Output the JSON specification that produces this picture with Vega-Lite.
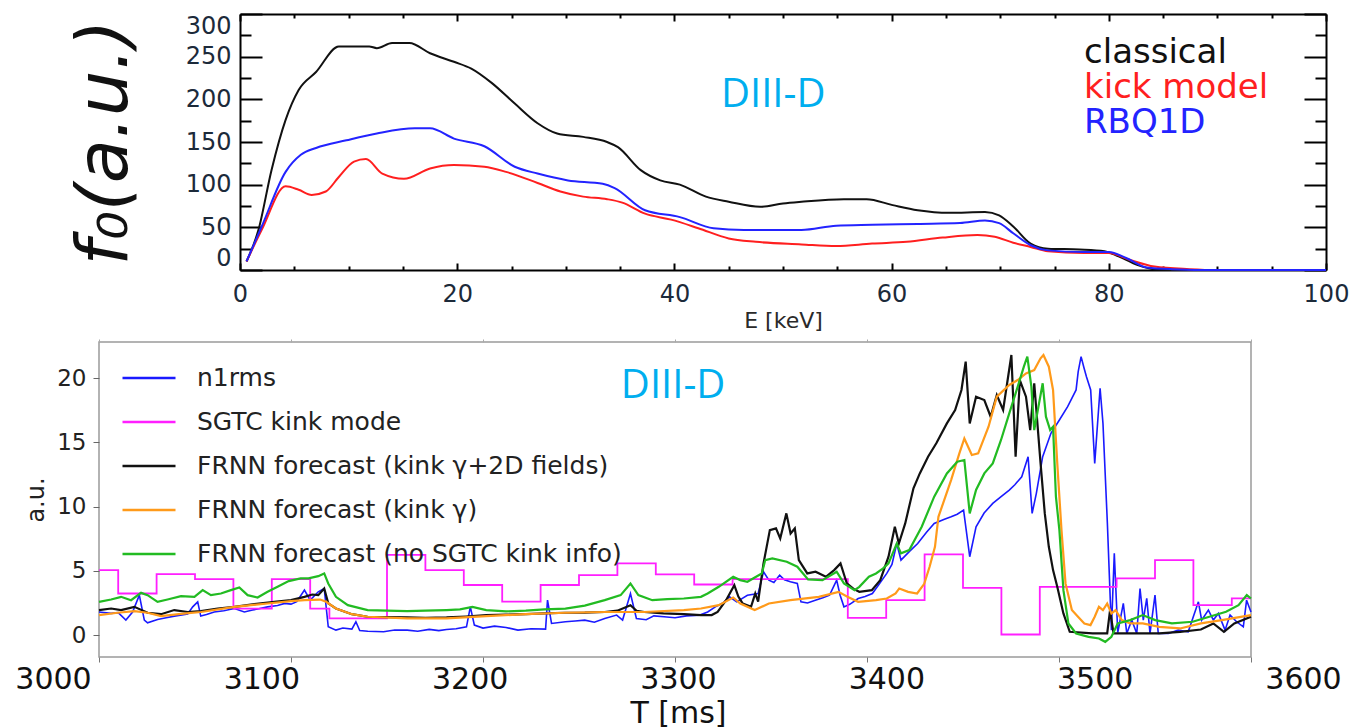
{
  "$schema": "https://vega.github.io/schema/vega-lite/v6.json",
  "background": "white",
  "padding": {"left": 14, "top": 13, "right": 0, "bottom": 0},
  "bounds": "flush",
  "spacing": 72,
  "resolve": {"scale": {"color": "independent"}, "legend": {"color": "independent"}},
  "config": {
    "view": {"stroke": null},
    "axis": {"grid": false, "titleFontWeight": "normal"},
    "font": "DejaVu Sans"
  },
  "datasets": {
    "energy": [
      {"E": 0.6, "f": 10, "curve": "classical"}, {"E": 1.7, "f": 47, "curve": "classical"}, {"E": 2.9, "f": 117, "curve": "classical"},
      {"E": 4.2, "f": 176, "curve": "classical"}, {"E": 5.4, "f": 211, "curve": "classical"}, {"E": 7.0, "f": 232, "curve": "classical"},
      {"E": 9.1, "f": 262, "curve": "classical"}, {"E": 11.9, "f": 262, "curve": "classical"}, {"E": 12.6, "f": 260, "curve": "classical"},
      {"E": 14.0, "f": 266, "curve": "classical"}, {"E": 15.6, "f": 266, "curve": "classical"}, {"E": 17.5, "f": 254, "curve": "classical"},
      {"E": 19.7, "f": 244, "curve": "classical"}, {"E": 21.3, "f": 236, "curve": "classical"}, {"E": 23.2, "f": 219, "curve": "classical"},
      {"E": 25.3, "f": 195, "curve": "classical"}, {"E": 27.4, "f": 172, "curve": "classical"}, {"E": 29.2, "f": 160, "curve": "classical"},
      {"E": 31.6, "f": 156, "curve": "classical"}, {"E": 33.8, "f": 150, "curve": "classical"}, {"E": 34.8, "f": 144, "curve": "classical"},
      {"E": 36.9, "f": 117, "curve": "classical"}, {"E": 38.7, "f": 105, "curve": "classical"}, {"E": 40.5, "f": 100, "curve": "classical"},
      {"E": 42.9, "f": 86, "curve": "classical"}, {"E": 45.0, "f": 80, "curve": "classical"}, {"E": 47.9, "f": 74, "curve": "classical"},
      {"E": 50.0, "f": 78, "curve": "classical"}, {"E": 51.7, "f": 80, "curve": "classical"}, {"E": 55.6, "f": 83, "curve": "classical"},
      {"E": 57.7, "f": 83, "curve": "classical"}, {"E": 60.1, "f": 76, "curve": "classical"}, {"E": 62.4, "f": 70, "curve": "classical"},
      {"E": 65.3, "f": 67, "curve": "classical"}, {"E": 68.6, "f": 68, "curve": "classical"}, {"E": 69.9, "f": 64, "curve": "classical"},
      {"E": 71.2, "f": 51, "curve": "classical"}, {"E": 72.8, "f": 31, "curve": "classical"}, {"E": 74.4, "f": 25, "curve": "classical"},
      {"E": 77.3, "f": 24, "curve": "classical"}, {"E": 79.6, "f": 22, "curve": "classical"}, {"E": 80.9, "f": 16, "curve": "classical"},
      {"E": 82.6, "f": 6, "curve": "classical"}, {"E": 84.2, "f": 1, "curve": "classical"}, {"E": 87, "f": 0, "curve": "classical"},
      {"E": 100, "f": 0, "curve": "classical"},

      {"E": 0.6, "f": 10, "curve": "kick model"}, {"E": 2.0, "f": 47, "curve": "kick model"}, {"E": 4.2, "f": 98, "curve": "kick model"},
      {"E": 5.4, "f": 94, "curve": "kick model"}, {"E": 6.6, "f": 88, "curve": "kick model"}, {"E": 7.9, "f": 92, "curve": "kick model"},
      {"E": 9.1, "f": 109, "curve": "kick model"}, {"E": 10.5, "f": 127, "curve": "kick model"}, {"E": 11.6, "f": 130, "curve": "kick model"},
      {"E": 13.1, "f": 113, "curve": "kick model"}, {"E": 15.1, "f": 107, "curve": "kick model"}, {"E": 17.5, "f": 119, "curve": "kick model"},
      {"E": 19.7, "f": 123, "curve": "kick model"}, {"E": 22.5, "f": 121, "curve": "kick model"}, {"E": 24.5, "f": 115, "curve": "kick model"},
      {"E": 27.4, "f": 102, "curve": "kick model"}, {"E": 29.5, "f": 92, "curve": "kick model"}, {"E": 31.6, "f": 86, "curve": "kick model"},
      {"E": 33.8, "f": 83, "curve": "kick model"}, {"E": 35.2, "f": 79, "curve": "kick model"}, {"E": 37.3, "f": 66, "curve": "kick model"},
      {"E": 39.7, "f": 59, "curve": "kick model"}, {"E": 42.2, "f": 49, "curve": "kick model"}, {"E": 45.0, "f": 37, "curve": "kick model"},
      {"E": 47.5, "f": 33, "curve": "kick model"}, {"E": 51.7, "f": 30, "curve": "kick model"}, {"E": 54.9, "f": 28, "curve": "kick model"},
      {"E": 58.2, "f": 31, "curve": "kick model"}, {"E": 61.4, "f": 33, "curve": "kick model"}, {"E": 64.7, "f": 38, "curve": "kick model"},
      {"E": 67.9, "f": 41, "curve": "kick model"}, {"E": 69.5, "f": 39, "curve": "kick model"}, {"E": 71.2, "f": 32, "curve": "kick model"},
      {"E": 72.8, "f": 27, "curve": "kick model"}, {"E": 74.4, "f": 22, "curve": "kick model"}, {"E": 77.7, "f": 20, "curve": "kick model"},
      {"E": 80.0, "f": 20, "curve": "kick model"}, {"E": 81.9, "f": 12, "curve": "kick model"}, {"E": 84.2, "f": 4, "curve": "kick model"},
      {"E": 87.4, "f": 1, "curve": "kick model"}, {"E": 90, "f": 0, "curve": "kick model"}, {"E": 100, "f": 0, "curve": "kick model"},

      {"E": 0.6, "f": 10, "curve": "RBQ1D"}, {"E": 2.0, "f": 51, "curve": "RBQ1D"}, {"E": 4.2, "f": 115, "curve": "RBQ1D"},
      {"E": 5.6, "f": 135, "curve": "RBQ1D"}, {"E": 7.0, "f": 143, "curve": "RBQ1D"}, {"E": 9.8, "f": 152, "curve": "RBQ1D"},
      {"E": 12.6, "f": 160, "curve": "RBQ1D"}, {"E": 16.1, "f": 166, "curve": "RBQ1D"}, {"E": 17.5, "f": 166, "curve": "RBQ1D"},
      {"E": 19.7, "f": 154, "curve": "RBQ1D"}, {"E": 22.5, "f": 145, "curve": "RBQ1D"}, {"E": 25.3, "f": 121, "curve": "RBQ1D"},
      {"E": 27.4, "f": 113, "curve": "RBQ1D"}, {"E": 30.2, "f": 105, "curve": "RBQ1D"}, {"E": 33.4, "f": 101, "curve": "RBQ1D"},
      {"E": 34.5, "f": 96, "curve": "RBQ1D"}, {"E": 37.3, "f": 70, "curve": "RBQ1D"}, {"E": 40.5, "f": 62, "curve": "RBQ1D"},
      {"E": 43.6, "f": 49, "curve": "RBQ1D"}, {"E": 46.4, "f": 47, "curve": "RBQ1D"}, {"E": 51.7, "f": 47, "curve": "RBQ1D"},
      {"E": 54.9, "f": 52, "curve": "RBQ1D"}, {"E": 58.2, "f": 53, "curve": "RBQ1D"}, {"E": 62.4, "f": 54, "curve": "RBQ1D"},
      {"E": 66.3, "f": 55, "curve": "RBQ1D"}, {"E": 68.6, "f": 58, "curve": "RBQ1D"}, {"E": 69.9, "f": 55, "curve": "RBQ1D"},
      {"E": 71.2, "f": 43, "curve": "RBQ1D"}, {"E": 72.8, "f": 29, "curve": "RBQ1D"}, {"E": 74.4, "f": 23, "curve": "RBQ1D"},
      {"E": 77.7, "f": 21, "curve": "RBQ1D"}, {"E": 80.0, "f": 21, "curve": "RBQ1D"}, {"E": 81.6, "f": 14, "curve": "RBQ1D"},
      {"E": 83.5, "f": 3, "curve": "RBQ1D"}, {"E": 85.8, "f": 1, "curve": "RBQ1D"}, {"E": 90, "f": 0, "curve": "RBQ1D"},
      {"E": 100, "f": 0, "curve": "RBQ1D"}
    ],
    "sgtc": [
      {"T": 3000, "v": 5.06, "s": "SGTC kink mode"}, {"T": 3010, "v": 3.24, "s": "SGTC kink mode"}, {"T": 3030, "v": 4.75, "s": "SGTC kink mode"},
      {"T": 3050, "v": 4.36, "s": "SGTC kink mode"}, {"T": 3070, "v": 2.07, "s": "SGTC kink mode"}, {"T": 3090, "v": 4.36, "s": "SGTC kink mode"},
      {"T": 3110, "v": 2.07, "s": "SGTC kink mode"}, {"T": 3120, "v": 1.3, "s": "SGTC kink mode"}, {"T": 3150, "v": 6.25, "s": "SGTC kink mode"},
      {"T": 3170, "v": 5.06, "s": "SGTC kink mode"}, {"T": 3190, "v": 3.9, "s": "SGTC kink mode"}, {"T": 3210, "v": 2.6, "s": "SGTC kink mode"},
      {"T": 3230, "v": 3.9, "s": "SGTC kink mode"}, {"T": 3250, "v": 4.67, "s": "SGTC kink mode"}, {"T": 3270, "v": 5.58, "s": "SGTC kink mode"},
      {"T": 3290, "v": 4.72, "s": "SGTC kink mode"}, {"T": 3310, "v": 3.94, "s": "SGTC kink mode"}, {"T": 3330, "v": 4.36, "s": "SGTC kink mode"},
      {"T": 3390, "v": 1.35, "s": "SGTC kink mode"}, {"T": 3410, "v": 2.72, "s": "SGTC kink mode"}, {"T": 3430, "v": 6.28, "s": "SGTC kink mode"},
      {"T": 3450, "v": 3.68, "s": "SGTC kink mode"}, {"T": 3470, "v": 0.05, "s": "SGTC kink mode"}, {"T": 3490, "v": 3.76, "s": "SGTC kink mode"},
      {"T": 3530, "v": 4.41, "s": "SGTC kink mode"}, {"T": 3550, "v": 5.84, "s": "SGTC kink mode"}, {"T": 3570, "v": 2.33, "s": "SGTC kink mode"},
      {"T": 3590, "v": 2.86, "s": "SGTC kink mode"}, {"T": 3600, "v": 2.86, "s": "SGTC kink mode"}
    ],
    "n1rms": [
      {"T": 3000, "v": 1.8}, {"T": 3006.3, "v": 1.69}, {"T": 3010, "v": 1.75}, {"T": 3014, "v": 1.17}, {"T": 3017.5, "v": 1.8},
      {"T": 3021, "v": 3.11}, {"T": 3023.6, "v": 1.17}, {"T": 3025.3, "v": 0.96}, {"T": 3030.5, "v": 1.22}, {"T": 3035, "v": 1.35},
      {"T": 3039.2, "v": 1.48}, {"T": 3046.2, "v": 1.65}, {"T": 3048.8, "v": 2.2}, {"T": 3051.4, "v": 2.59}, {"T": 3053, "v": 1.48},
      {"T": 3056, "v": 1.6}, {"T": 3060, "v": 1.8}, {"T": 3065, "v": 1.9}, {"T": 3070.5, "v": 2.07}, {"T": 3075.7, "v": 1.8},
      {"T": 3080, "v": 1.95}, {"T": 3087.8, "v": 2.2}, {"T": 3093, "v": 2.3}, {"T": 3096.7, "v": 2.47}, {"T": 3100, "v": 2.41},
      {"T": 3103, "v": 2.6}, {"T": 3107, "v": 3.5}, {"T": 3110, "v": 2.72}, {"T": 3114.2, "v": 3.37}, {"T": 3117.3, "v": 3.63},
      {"T": 3119.4, "v": 0.65}, {"T": 3123.4, "v": 0.39}, {"T": 3127, "v": 0.55}, {"T": 3131.7, "v": 0.47}, {"T": 3133.8, "v": 1.04},
      {"T": 3135.8, "v": 0.36}, {"T": 3140, "v": 0.3}, {"T": 3148.2, "v": 0.26}, {"T": 3154, "v": 0.4}, {"T": 3160.5, "v": 0.39},
      {"T": 3166, "v": 0.3}, {"T": 3172, "v": 0.45}, {"T": 3177, "v": 0.35}, {"T": 3181, "v": 0.44}, {"T": 3186, "v": 0.5},
      {"T": 3191.4, "v": 0.65}, {"T": 3193.4, "v": 2.2}, {"T": 3195.5, "v": 0.78}, {"T": 3200, "v": 0.55}, {"T": 3206, "v": 0.7},
      {"T": 3212, "v": 0.6}, {"T": 3218.2, "v": 0.39}, {"T": 3225, "v": 0.5}, {"T": 3232.6, "v": 0.47}, {"T": 3233.6, "v": 2.72},
      {"T": 3235.7, "v": 0.91}, {"T": 3242.9, "v": 1.04}, {"T": 3248, "v": 1.1}, {"T": 3253, "v": 1.17}, {"T": 3258, "v": 1.0},
      {"T": 3263.4, "v": 1.3}, {"T": 3269.6, "v": 1.56}, {"T": 3272.7, "v": 1.17}, {"T": 3276.8, "v": 3.24}, {"T": 3279.9, "v": 1.3},
      {"T": 3285, "v": 1.2}, {"T": 3289, "v": 1.5}, {"T": 3294.3, "v": 1.43}, {"T": 3300, "v": 1.35}, {"T": 3306, "v": 1.5},
      {"T": 3312.9, "v": 1.56}, {"T": 3317, "v": 1.8}, {"T": 3321, "v": 2.2}, {"T": 3325, "v": 2.5}, {"T": 3328.4, "v": 2.98},
      {"T": 3332.1, "v": 2.59}, {"T": 3337.7, "v": 3.1}, {"T": 3343.3, "v": 3.24}, {"T": 3346.1, "v": 4.93}, {"T": 3348.9, "v": 4.28},
      {"T": 3351.5, "v": 4.1}, {"T": 3354.5, "v": 4.67}, {"T": 3357, "v": 4.3}, {"T": 3360.1, "v": 4.15}, {"T": 3363.7, "v": 4.02},
      {"T": 3365.6, "v": 2.59}, {"T": 3369, "v": 2.5}, {"T": 3373.1, "v": 2.72}, {"T": 3377, "v": 2.9}, {"T": 3380.5, "v": 3.11},
      {"T": 3384.2, "v": 4.28}, {"T": 3386, "v": 3.1}, {"T": 3388, "v": 2.2}, {"T": 3391, "v": 2.4}, {"T": 3395.4, "v": 2.85},
      {"T": 3399, "v": 3.0}, {"T": 3402.8, "v": 3.24}, {"T": 3406, "v": 3.9}, {"T": 3410.3, "v": 4.8}, {"T": 3413, "v": 5.5},
      {"T": 3415.5, "v": 7.13}, {"T": 3417.7, "v": 5.84}, {"T": 3422, "v": 6.5}, {"T": 3426.4, "v": 7.13}, {"T": 3431, "v": 8.0},
      {"T": 3435, "v": 8.69}, {"T": 3440, "v": 9.0}, {"T": 3443.8, "v": 9.2}, {"T": 3447, "v": 9.4}, {"T": 3450.3, "v": 9.73},
      {"T": 3453.5, "v": 6.1}, {"T": 3456.8, "v": 8.43}, {"T": 3461, "v": 9.5}, {"T": 3465.5, "v": 10.25}, {"T": 3470, "v": 10.8},
      {"T": 3474.1, "v": 11.28}, {"T": 3477, "v": 11.7}, {"T": 3480.6, "v": 12.32}, {"T": 3483.9, "v": 13.88}, {"T": 3486, "v": 9.47},
      {"T": 3488.2, "v": 11.03}, {"T": 3491.5, "v": 13.88}, {"T": 3495.8, "v": 15.7}, {"T": 3500.2, "v": 16.73}, {"T": 3504.5, "v": 17.77},
      {"T": 3508.9, "v": 19.07}, {"T": 3510, "v": 20.5}, {"T": 3511.5, "v": 21.66}, {"T": 3513, "v": 20.8}, {"T": 3514.3, "v": 20.1},
      {"T": 3516.5, "v": 19.07}, {"T": 3518.6, "v": 13.36}, {"T": 3521.4, "v": 19.2}, {"T": 3522.9, "v": 16.47}, {"T": 3525.2, "v": 8.69},
      {"T": 3527.3, "v": 0.39}, {"T": 3528.8, "v": 6.36}, {"T": 3530.6, "v": 0.2}, {"T": 3533.5, "v": 2.47}, {"T": 3535.3, "v": 0.13},
      {"T": 3537.9, "v": 1.17}, {"T": 3540.5, "v": 0.13}, {"T": 3542.2, "v": 3.63}, {"T": 3543.9, "v": 1.17}, {"T": 3545.7, "v": 2.86},
      {"T": 3547.4, "v": 0.13}, {"T": 3550, "v": 3.11}, {"T": 3551.7, "v": 0.13}, {"T": 3556.9, "v": 0.13}, {"T": 3562.1, "v": 0.39},
      {"T": 3567.3, "v": 0.26}, {"T": 3572.6, "v": 2.59}, {"T": 3574.3, "v": 1.17}, {"T": 3577.8, "v": 1.95}, {"T": 3580.4, "v": 1.17},
      {"T": 3583, "v": 1.69}, {"T": 3586.5, "v": 0.39}, {"T": 3589.1, "v": 1.56}, {"T": 3592.5, "v": 1.04}, {"T": 3596, "v": 0.65},
      {"T": 3597.7, "v": 2.72}, {"T": 3600, "v": 1.8}
    ],
    "forecasts": [
      {"T": 3000, "v": 1.95, "s": "FRNN forecast (kink γ+2D fields)"}, {"T": 3006.3, "v": 2.07, "s": "FRNN forecast (kink γ+2D fields)"},
      {"T": 3011.5, "v": 1.95, "s": "FRNN forecast (kink γ+2D fields)"}, {"T": 3018.4, "v": 2.2, "s": "FRNN forecast (kink γ+2D fields)"},
      {"T": 3025.3, "v": 1.74, "s": "FRNN forecast (kink γ+2D fields)"}, {"T": 3032.3, "v": 1.63, "s": "FRNN forecast (kink γ+2D fields)"},
      {"T": 3039.2, "v": 1.95, "s": "FRNN forecast (kink γ+2D fields)"}, {"T": 3046.2, "v": 1.8, "s": "FRNN forecast (kink γ+2D fields)"},
      {"T": 3053.1, "v": 1.87, "s": "FRNN forecast (kink γ+2D fields)"}, {"T": 3061.8, "v": 2.07, "s": "FRNN forecast (kink γ+2D fields)"},
      {"T": 3070.5, "v": 2.2, "s": "FRNN forecast (kink γ+2D fields)"}, {"T": 3080.9, "v": 2.41, "s": "FRNN forecast (kink γ+2D fields)"},
      {"T": 3091.3, "v": 2.59, "s": "FRNN forecast (kink γ+2D fields)"}, {"T": 3100, "v": 2.72, "s": "FRNN forecast (kink γ+2D fields)"},
      {"T": 3107, "v": 2.98, "s": "FRNN forecast (kink γ+2D fields)"}, {"T": 3111.1, "v": 3.16, "s": "FRNN forecast (kink γ+2D fields)"},
      {"T": 3114.2, "v": 3.11, "s": "FRNN forecast (kink γ+2D fields)"}, {"T": 3117.3, "v": 3.63, "s": "FRNN forecast (kink γ+2D fields)"},
      {"T": 3119.4, "v": 2.47, "s": "FRNN forecast (kink γ+2D fields)"}, {"T": 3123.4, "v": 2.07, "s": "FRNN forecast (kink γ+2D fields)"},
      {"T": 3131.7, "v": 1.63, "s": "FRNN forecast (kink γ+2D fields)"}, {"T": 3139.9, "v": 1.43, "s": "FRNN forecast (kink γ+2D fields)"},
      {"T": 3150, "v": 1.4, "s": "FRNN forecast (kink γ+2D fields)"}, {"T": 3160.5, "v": 1.38, "s": "FRNN forecast (kink γ+2D fields)"},
      {"T": 3170, "v": 1.35, "s": "FRNN forecast (kink γ+2D fields)"}, {"T": 3181, "v": 1.38, "s": "FRNN forecast (kink γ+2D fields)"},
      {"T": 3191, "v": 1.45, "s": "FRNN forecast (kink γ+2D fields)"}, {"T": 3201.7, "v": 1.56, "s": "FRNN forecast (kink γ+2D fields)"},
      {"T": 3212, "v": 1.6, "s": "FRNN forecast (kink γ+2D fields)"}, {"T": 3222.3, "v": 1.63, "s": "FRNN forecast (kink γ+2D fields)"},
      {"T": 3232, "v": 1.7, "s": "FRNN forecast (kink γ+2D fields)"}, {"T": 3242.9, "v": 1.74, "s": "FRNN forecast (kink γ+2D fields)"},
      {"T": 3253, "v": 1.75, "s": "FRNN forecast (kink γ+2D fields)"}, {"T": 3263.4, "v": 1.8, "s": "FRNN forecast (kink γ+2D fields)"},
      {"T": 3270, "v": 1.9, "s": "FRNN forecast (kink γ+2D fields)"}, {"T": 3276.8, "v": 2.33, "s": "FRNN forecast (kink γ+2D fields)"},
      {"T": 3280, "v": 1.9, "s": "FRNN forecast (kink γ+2D fields)"}, {"T": 3284, "v": 1.8, "s": "FRNN forecast (kink γ+2D fields)"},
      {"T": 3294, "v": 1.7, "s": "FRNN forecast (kink γ+2D fields)"}, {"T": 3304.6, "v": 1.63, "s": "FRNN forecast (kink γ+2D fields)"},
      {"T": 3313.5, "v": 1.56, "s": "FRNN forecast (kink γ+2D fields)"}, {"T": 3319.1, "v": 1.56, "s": "FRNN forecast (kink γ+2D fields)"},
      {"T": 3322.2, "v": 1.81, "s": "FRNN forecast (kink γ+2D fields)"}, {"T": 3326.6, "v": 2.72, "s": "FRNN forecast (kink γ+2D fields)"},
      {"T": 3330.9, "v": 3.89, "s": "FRNN forecast (kink γ+2D fields)"}, {"T": 3333, "v": 3.0, "s": "FRNN forecast (kink γ+2D fields)"},
      {"T": 3335.3, "v": 2.46, "s": "FRNN forecast (kink γ+2D fields)"}, {"T": 3339.6, "v": 2.2, "s": "FRNN forecast (kink γ+2D fields)"},
      {"T": 3341.8, "v": 3.24, "s": "FRNN forecast (kink γ+2D fields)"}, {"T": 3343.3, "v": 2.6, "s": "FRNN forecast (kink γ+2D fields)"},
      {"T": 3346.1, "v": 5.58, "s": "FRNN forecast (kink γ+2D fields)"}, {"T": 3349.4, "v": 8.17, "s": "FRNN forecast (kink γ+2D fields)"},
      {"T": 3352.6, "v": 8.3, "s": "FRNN forecast (kink γ+2D fields)"}, {"T": 3354.8, "v": 7.52, "s": "FRNN forecast (kink γ+2D fields)"},
      {"T": 3358, "v": 9.47, "s": "FRNN forecast (kink γ+2D fields)"}, {"T": 3360.2, "v": 7.91, "s": "FRNN forecast (kink γ+2D fields)"},
      {"T": 3362.4, "v": 8.3, "s": "FRNN forecast (kink γ+2D fields)"}, {"T": 3364.5, "v": 5.84, "s": "FRNN forecast (kink γ+2D fields)"},
      {"T": 3368.9, "v": 4.8, "s": "FRNN forecast (kink γ+2D fields)"}, {"T": 3373.2, "v": 4.93, "s": "FRNN forecast (kink γ+2D fields)"},
      {"T": 3378.6, "v": 4.54, "s": "FRNN forecast (kink γ+2D fields)"}, {"T": 3382.9, "v": 5.06, "s": "FRNN forecast (kink γ+2D fields)"},
      {"T": 3386.2, "v": 5.58, "s": "FRNN forecast (kink γ+2D fields)"}, {"T": 3389.5, "v": 4.02, "s": "FRNN forecast (kink γ+2D fields)"},
      {"T": 3393, "v": 3.6, "s": "FRNN forecast (kink γ+2D fields)"}, {"T": 3396, "v": 3.37, "s": "FRNN forecast (kink γ+2D fields)"},
      {"T": 3402.5, "v": 3.5, "s": "FRNN forecast (kink γ+2D fields)"}, {"T": 3406.9, "v": 4.28, "s": "FRNN forecast (kink γ+2D fields)"},
      {"T": 3411.2, "v": 6.1, "s": "FRNN forecast (kink γ+2D fields)"}, {"T": 3414.5, "v": 8.43, "s": "FRNN forecast (kink γ+2D fields)"},
      {"T": 3416.6, "v": 7.13, "s": "FRNN forecast (kink γ+2D fields)"}, {"T": 3419.9, "v": 8.69, "s": "FRNN forecast (kink γ+2D fields)"},
      {"T": 3424.2, "v": 11.42, "s": "FRNN forecast (kink γ+2D fields)"}, {"T": 3427.5, "v": 12.58, "s": "FRNN forecast (kink γ+2D fields)"},
      {"T": 3431.8, "v": 13.88, "s": "FRNN forecast (kink γ+2D fields)"}, {"T": 3436.1, "v": 14.92, "s": "FRNN forecast (kink γ+2D fields)"},
      {"T": 3441.6, "v": 16.47, "s": "FRNN forecast (kink γ+2D fields)"}, {"T": 3445.9, "v": 17.51, "s": "FRNN forecast (kink γ+2D fields)"},
      {"T": 3449.2, "v": 19.07, "s": "FRNN forecast (kink γ+2D fields)"}, {"T": 3451.4, "v": 21.27, "s": "FRNN forecast (kink γ+2D fields)"},
      {"T": 3453.5, "v": 16.47, "s": "FRNN forecast (kink γ+2D fields)"}, {"T": 3456.8, "v": 18.55, "s": "FRNN forecast (kink γ+2D fields)"},
      {"T": 3461.1, "v": 18.29, "s": "FRNN forecast (kink γ+2D fields)"}, {"T": 3464.4, "v": 16.99, "s": "FRNN forecast (kink γ+2D fields)"},
      {"T": 3467.6, "v": 18.68, "s": "FRNN forecast (kink γ+2D fields)"}, {"T": 3470.9, "v": 17.51, "s": "FRNN forecast (kink γ+2D fields)"},
      {"T": 3475.2, "v": 21.79, "s": "FRNN forecast (kink γ+2D fields)"}, {"T": 3477.4, "v": 13.88, "s": "FRNN forecast (kink γ+2D fields)"},
      {"T": 3479.6, "v": 19.84, "s": "FRNN forecast (kink γ+2D fields)"}, {"T": 3482.8, "v": 18.55, "s": "FRNN forecast (kink γ+2D fields)"},
      {"T": 3485, "v": 15.95, "s": "FRNN forecast (kink γ+2D fields)"}, {"T": 3487.1, "v": 19.59, "s": "FRNN forecast (kink γ+2D fields)"},
      {"T": 3490.4, "v": 13.36, "s": "FRNN forecast (kink γ+2D fields)"}, {"T": 3492.6, "v": 9.47, "s": "FRNN forecast (kink γ+2D fields)"},
      {"T": 3494.7, "v": 6.87, "s": "FRNN forecast (kink γ+2D fields)"}, {"T": 3496.9, "v": 5.06, "s": "FRNN forecast (kink γ+2D fields)"},
      {"T": 3499.1, "v": 3.76, "s": "FRNN forecast (kink γ+2D fields)"}, {"T": 3502.3, "v": 1.69, "s": "FRNN forecast (kink γ+2D fields)"},
      {"T": 3505.6, "v": 0.26, "s": "FRNN forecast (kink γ+2D fields)"}, {"T": 3517.5, "v": 0.13, "s": "FRNN forecast (kink γ+2D fields)"},
      {"T": 3525.1, "v": 0.13, "s": "FRNN forecast (kink γ+2D fields)"}, {"T": 3526.6, "v": 1.95, "s": "FRNN forecast (kink γ+2D fields)"},
      {"T": 3528.4, "v": 0.13, "s": "FRNN forecast (kink γ+2D fields)"}, {"T": 3541.4, "v": 0.13, "s": "FRNN forecast (kink γ+2D fields)"},
      {"T": 3552.2, "v": 0.13, "s": "FRNN forecast (kink γ+2D fields)"}, {"T": 3563.1, "v": 0.26, "s": "FRNN forecast (kink γ+2D fields)"},
      {"T": 3573.9, "v": 0.44, "s": "FRNN forecast (kink γ+2D fields)"}, {"T": 3580.4, "v": 0.91, "s": "FRNN forecast (kink γ+2D fields)"},
      {"T": 3585.9, "v": 0.26, "s": "FRNN forecast (kink γ+2D fields)"}, {"T": 3591.3, "v": 0.91, "s": "FRNN forecast (kink γ+2D fields)"},
      {"T": 3600, "v": 1.43, "s": "FRNN forecast (kink γ+2D fields)"},

      {"T": 3000, "v": 1.56, "s": "FRNN forecast (kink γ)"}, {"T": 3009.7, "v": 1.74, "s": "FRNN forecast (kink γ)"},
      {"T": 3018.4, "v": 1.87, "s": "FRNN forecast (kink γ)"}, {"T": 3025.3, "v": 1.74, "s": "FRNN forecast (kink γ)"},
      {"T": 3032.3, "v": 1.48, "s": "FRNN forecast (kink γ)"}, {"T": 3042.7, "v": 1.65, "s": "FRNN forecast (kink γ)"},
      {"T": 3053.1, "v": 1.8, "s": "FRNN forecast (kink γ)"}, {"T": 3070.5, "v": 2.2, "s": "FRNN forecast (kink γ)"},
      {"T": 3087.8, "v": 2.46, "s": "FRNN forecast (kink γ)"}, {"T": 3100, "v": 2.64, "s": "FRNN forecast (kink γ)"},
      {"T": 3107, "v": 2.72, "s": "FRNN forecast (kink γ)"}, {"T": 3115.2, "v": 2.77, "s": "FRNN forecast (kink γ)"},
      {"T": 3118.3, "v": 2.59, "s": "FRNN forecast (kink γ)"}, {"T": 3123.4, "v": 2.07, "s": "FRNN forecast (kink γ)"},
      {"T": 3131.7, "v": 1.63, "s": "FRNN forecast (kink γ)"}, {"T": 3139.9, "v": 1.43, "s": "FRNN forecast (kink γ)"},
      {"T": 3160.5, "v": 1.3, "s": "FRNN forecast (kink γ)"}, {"T": 3181, "v": 1.3, "s": "FRNN forecast (kink γ)"},
      {"T": 3201.7, "v": 1.48, "s": "FRNN forecast (kink γ)"}, {"T": 3222.3, "v": 1.63, "s": "FRNN forecast (kink γ)"},
      {"T": 3242.9, "v": 1.74, "s": "FRNN forecast (kink γ)"}, {"T": 3263.4, "v": 1.8, "s": "FRNN forecast (kink γ)"},
      {"T": 3284, "v": 1.8, "s": "FRNN forecast (kink γ)"}, {"T": 3304.6, "v": 1.95, "s": "FRNN forecast (kink γ)"},
      {"T": 3313.5, "v": 2.07, "s": "FRNN forecast (kink γ)"}, {"T": 3322.8, "v": 2.33, "s": "FRNN forecast (kink γ)"},
      {"T": 3330.3, "v": 2.93, "s": "FRNN forecast (kink γ)"}, {"T": 3334, "v": 2.46, "s": "FRNN forecast (kink γ)"},
      {"T": 3341.5, "v": 1.95, "s": "FRNN forecast (kink γ)"}, {"T": 3348.9, "v": 2.46, "s": "FRNN forecast (kink γ)"},
      {"T": 3360.1, "v": 2.72, "s": "FRNN forecast (kink γ)"}, {"T": 3374.9, "v": 2.98, "s": "FRNN forecast (kink γ)"},
      {"T": 3385.2, "v": 3.37, "s": "FRNN forecast (kink γ)"}, {"T": 3389.8, "v": 2.98, "s": "FRNN forecast (kink γ)"},
      {"T": 3395.4, "v": 2.59, "s": "FRNN forecast (kink γ)"}, {"T": 3404.7, "v": 2.72, "s": "FRNN forecast (kink γ)"},
      {"T": 3410.3, "v": 2.85, "s": "FRNN forecast (kink γ)"}, {"T": 3414.9, "v": 3.24, "s": "FRNN forecast (kink γ)"},
      {"T": 3416.8, "v": 3.63, "s": "FRNN forecast (kink γ)"}, {"T": 3421.4, "v": 3.37, "s": "FRNN forecast (kink γ)"},
      {"T": 3426.1, "v": 3.24, "s": "FRNN forecast (kink γ)"}, {"T": 3429.8, "v": 3.99, "s": "FRNN forecast (kink γ)"},
      {"T": 3432.6, "v": 5.32, "s": "FRNN forecast (kink γ)"}, {"T": 3435.4, "v": 6.87, "s": "FRNN forecast (kink γ)"},
      {"T": 3437.2, "v": 9.2, "s": "FRNN forecast (kink γ)"}, {"T": 3443.8, "v": 12.06, "s": "FRNN forecast (kink γ)"},
      {"T": 3448.1, "v": 14.14, "s": "FRNN forecast (kink γ)"}, {"T": 3450.7, "v": 15.3, "s": "FRNN forecast (kink γ)"},
      {"T": 3454.6, "v": 14.01, "s": "FRNN forecast (kink γ)"}, {"T": 3457.9, "v": 14.14, "s": "FRNN forecast (kink γ)"},
      {"T": 3463.3, "v": 16.21, "s": "FRNN forecast (kink γ)"}, {"T": 3467.6, "v": 18.55, "s": "FRNN forecast (kink γ)"},
      {"T": 3474.1, "v": 19.46, "s": "FRNN forecast (kink γ)"}, {"T": 3478.5, "v": 19.84, "s": "FRNN forecast (kink γ)"},
      {"T": 3482.8, "v": 20.36, "s": "FRNN forecast (kink γ)"}, {"T": 3487.1, "v": 20.62, "s": "FRNN forecast (kink γ)"},
      {"T": 3490.4, "v": 21.53, "s": "FRNN forecast (kink γ)"}, {"T": 3491.9, "v": 21.79, "s": "FRNN forecast (kink γ)"},
      {"T": 3494.7, "v": 20.88, "s": "FRNN forecast (kink γ)"}, {"T": 3496.9, "v": 19.07, "s": "FRNN forecast (kink γ)"},
      {"T": 3499.1, "v": 13.36, "s": "FRNN forecast (kink γ)"}, {"T": 3501.3, "v": 8.17, "s": "FRNN forecast (kink γ)"},
      {"T": 3503.4, "v": 4.02, "s": "FRNN forecast (kink γ)"}, {"T": 3506.7, "v": 1.95, "s": "FRNN forecast (kink γ)"},
      {"T": 3509.9, "v": 1.43, "s": "FRNN forecast (kink γ)"}, {"T": 3513.2, "v": 0.91, "s": "FRNN forecast (kink γ)"},
      {"T": 3516.4, "v": 0.78, "s": "FRNN forecast (kink γ)"}, {"T": 3518.6, "v": 1.43, "s": "FRNN forecast (kink γ)"},
      {"T": 3520.8, "v": 2.2, "s": "FRNN forecast (kink γ)"}, {"T": 3522.9, "v": 1.95, "s": "FRNN forecast (kink γ)"},
      {"T": 3525.1, "v": 2.46, "s": "FRNN forecast (kink γ)"}, {"T": 3527.3, "v": 1.69, "s": "FRNN forecast (kink γ)"},
      {"T": 3529.5, "v": 1.95, "s": "FRNN forecast (kink γ)"}, {"T": 3532.7, "v": 1.17, "s": "FRNN forecast (kink γ)"},
      {"T": 3537.1, "v": 0.91, "s": "FRNN forecast (kink γ)"}, {"T": 3543.6, "v": 0.91, "s": "FRNN forecast (kink γ)"},
      {"T": 3552.2, "v": 0.65, "s": "FRNN forecast (kink γ)"}, {"T": 3563.1, "v": 0.52, "s": "FRNN forecast (kink γ)"},
      {"T": 3573.9, "v": 0.91, "s": "FRNN forecast (kink γ)"}, {"T": 3584.8, "v": 1.17, "s": "FRNN forecast (kink γ)"},
      {"T": 3600, "v": 1.56, "s": "FRNN forecast (kink γ)"},

      {"T": 3000, "v": 2.59, "s": "FRNN forecast (no SGTC kink info)"}, {"T": 3006.3, "v": 2.77, "s": "FRNN forecast (no SGTC kink info)"},
      {"T": 3011.5, "v": 2.98, "s": "FRNN forecast (no SGTC kink info)"}, {"T": 3016.7, "v": 2.72, "s": "FRNN forecast (no SGTC kink info)"},
      {"T": 3021.9, "v": 3.29, "s": "FRNN forecast (no SGTC kink info)"}, {"T": 3025.3, "v": 3.11, "s": "FRNN forecast (no SGTC kink info)"},
      {"T": 3030.5, "v": 2.59, "s": "FRNN forecast (no SGTC kink info)"}, {"T": 3035.7, "v": 2.77, "s": "FRNN forecast (no SGTC kink info)"},
      {"T": 3042.7, "v": 3.03, "s": "FRNN forecast (no SGTC kink info)"}, {"T": 3049.7, "v": 2.98, "s": "FRNN forecast (no SGTC kink info)"},
      {"T": 3054, "v": 3.5, "s": "FRNN forecast (no SGTC kink info)"}, {"T": 3058.3, "v": 3.11, "s": "FRNN forecast (no SGTC kink info)"},
      {"T": 3063.5, "v": 3.24, "s": "FRNN forecast (no SGTC kink info)"}, {"T": 3068.7, "v": 3.5, "s": "FRNN forecast (no SGTC kink info)"},
      {"T": 3073.1, "v": 3.71, "s": "FRNN forecast (no SGTC kink info)"}, {"T": 3077.4, "v": 3.11, "s": "FRNN forecast (no SGTC kink info)"},
      {"T": 3082.6, "v": 2.93, "s": "FRNN forecast (no SGTC kink info)"}, {"T": 3087.8, "v": 3.37, "s": "FRNN forecast (no SGTC kink info)"},
      {"T": 3093, "v": 3.76, "s": "FRNN forecast (no SGTC kink info)"}, {"T": 3098.8, "v": 4.2, "s": "FRNN forecast (no SGTC kink info)"},
      {"T": 3105, "v": 4.41, "s": "FRNN forecast (no SGTC kink info)"}, {"T": 3109.1, "v": 4.41, "s": "FRNN forecast (no SGTC kink info)"},
      {"T": 3114.2, "v": 4.59, "s": "FRNN forecast (no SGTC kink info)"}, {"T": 3117.3, "v": 4.8, "s": "FRNN forecast (no SGTC kink info)"},
      {"T": 3119.4, "v": 4.02, "s": "FRNN forecast (no SGTC kink info)"}, {"T": 3123.4, "v": 2.98, "s": "FRNN forecast (no SGTC kink info)"},
      {"T": 3129.6, "v": 2.33, "s": "FRNN forecast (no SGTC kink info)"}, {"T": 3139.9, "v": 1.95, "s": "FRNN forecast (no SGTC kink info)"},
      {"T": 3150, "v": 1.9, "s": "FRNN forecast (no SGTC kink info)"}, {"T": 3160.5, "v": 1.87, "s": "FRNN forecast (no SGTC kink info)"},
      {"T": 3170, "v": 1.9, "s": "FRNN forecast (no SGTC kink info)"}, {"T": 3181, "v": 1.95, "s": "FRNN forecast (no SGTC kink info)"},
      {"T": 3188, "v": 2.0, "s": "FRNN forecast (no SGTC kink info)"}, {"T": 3194.5, "v": 2.2, "s": "FRNN forecast (no SGTC kink info)"},
      {"T": 3201.7, "v": 1.95, "s": "FRNN forecast (no SGTC kink info)"}, {"T": 3212, "v": 1.85, "s": "FRNN forecast (no SGTC kink info)"},
      {"T": 3222.3, "v": 1.9, "s": "FRNN forecast (no SGTC kink info)"}, {"T": 3232, "v": 2.0, "s": "FRNN forecast (no SGTC kink info)"},
      {"T": 3242.9, "v": 2.07, "s": "FRNN forecast (no SGTC kink info)"}, {"T": 3253, "v": 2.3, "s": "FRNN forecast (no SGTC kink info)"},
      {"T": 3263.4, "v": 2.72, "s": "FRNN forecast (no SGTC kink info)"}, {"T": 3271.7, "v": 3.11, "s": "FRNN forecast (no SGTC kink info)"},
      {"T": 3276.8, "v": 4.02, "s": "FRNN forecast (no SGTC kink info)"}, {"T": 3280.9, "v": 3.11, "s": "FRNN forecast (no SGTC kink info)"},
      {"T": 3288.2, "v": 2.72, "s": "FRNN forecast (no SGTC kink info)"}, {"T": 3296, "v": 2.8, "s": "FRNN forecast (no SGTC kink info)"},
      {"T": 3304.6, "v": 2.85, "s": "FRNN forecast (no SGTC kink info)"}, {"T": 3313.5, "v": 2.98, "s": "FRNN forecast (no SGTC kink info)"},
      {"T": 3317, "v": 3.24, "s": "FRNN forecast (no SGTC kink info)"}, {"T": 3322.8, "v": 3.76, "s": "FRNN forecast (no SGTC kink info)"},
      {"T": 3330.3, "v": 4.54, "s": "FRNN forecast (no SGTC kink info)"}, {"T": 3334, "v": 4.28, "s": "FRNN forecast (no SGTC kink info)"},
      {"T": 3337.7, "v": 4.15, "s": "FRNN forecast (no SGTC kink info)"}, {"T": 3345.2, "v": 4.8, "s": "FRNN forecast (no SGTC kink info)"},
      {"T": 3347, "v": 5.84, "s": "FRNN forecast (no SGTC kink info)"}, {"T": 3350.7, "v": 5.97, "s": "FRNN forecast (no SGTC kink info)"},
      {"T": 3358.2, "v": 5.71, "s": "FRNN forecast (no SGTC kink info)"}, {"T": 3363.7, "v": 5.32, "s": "FRNN forecast (no SGTC kink info)"},
      {"T": 3369.3, "v": 4.33, "s": "FRNN forecast (no SGTC kink info)"}, {"T": 3376.8, "v": 4.28, "s": "FRNN forecast (no SGTC kink info)"},
      {"T": 3384.2, "v": 4.93, "s": "FRNN forecast (no SGTC kink info)"}, {"T": 3388, "v": 4.02, "s": "FRNN forecast (no SGTC kink info)"},
      {"T": 3393.5, "v": 3.5, "s": "FRNN forecast (no SGTC kink info)"}, {"T": 3396, "v": 3.76, "s": "FRNN forecast (no SGTC kink info)"},
      {"T": 3401, "v": 4.54, "s": "FRNN forecast (no SGTC kink info)"}, {"T": 3404.7, "v": 4.8, "s": "FRNN forecast (no SGTC kink info)"},
      {"T": 3408.4, "v": 5.19, "s": "FRNN forecast (no SGTC kink info)"}, {"T": 3411.2, "v": 5.58, "s": "FRNN forecast (no SGTC kink info)"},
      {"T": 3415.5, "v": 7.13, "s": "FRNN forecast (no SGTC kink info)"}, {"T": 3417.7, "v": 6.36, "s": "FRNN forecast (no SGTC kink info)"},
      {"T": 3422, "v": 6.62, "s": "FRNN forecast (no SGTC kink info)"}, {"T": 3428.5, "v": 8.43, "s": "FRNN forecast (no SGTC kink info)"},
      {"T": 3435, "v": 10.77, "s": "FRNN forecast (no SGTC kink info)"}, {"T": 3441.6, "v": 12.58, "s": "FRNN forecast (no SGTC kink info)"},
      {"T": 3447, "v": 13.49, "s": "FRNN forecast (no SGTC kink info)"}, {"T": 3450.7, "v": 13.62, "s": "FRNN forecast (no SGTC kink info)"},
      {"T": 3453.5, "v": 9.47, "s": "FRNN forecast (no SGTC kink info)"}, {"T": 3456.8, "v": 11.29, "s": "FRNN forecast (no SGTC kink info)"},
      {"T": 3461.1, "v": 12.58, "s": "FRNN forecast (no SGTC kink info)"}, {"T": 3465.5, "v": 13.36, "s": "FRNN forecast (no SGTC kink info)"},
      {"T": 3469.8, "v": 15.18, "s": "FRNN forecast (no SGTC kink info)"}, {"T": 3474.1, "v": 17.25, "s": "FRNN forecast (no SGTC kink info)"},
      {"T": 3478.5, "v": 19.33, "s": "FRNN forecast (no SGTC kink info)"}, {"T": 3481.7, "v": 20.88, "s": "FRNN forecast (no SGTC kink info)"},
      {"T": 3483.5, "v": 21.66, "s": "FRNN forecast (no SGTC kink info)"}, {"T": 3485.6, "v": 19.33, "s": "FRNN forecast (no SGTC kink info)"},
      {"T": 3487.1, "v": 15.95, "s": "FRNN forecast (no SGTC kink info)"}, {"T": 3489.3, "v": 17.77, "s": "FRNN forecast (no SGTC kink info)"},
      {"T": 3491.5, "v": 19.59, "s": "FRNN forecast (no SGTC kink info)"}, {"T": 3493.2, "v": 16.99, "s": "FRNN forecast (no SGTC kink info)"},
      {"T": 3495.4, "v": 15.95, "s": "FRNN forecast (no SGTC kink info)"}, {"T": 3496.9, "v": 16.21, "s": "FRNN forecast (no SGTC kink info)"},
      {"T": 3498.4, "v": 10.77, "s": "FRNN forecast (no SGTC kink info)"}, {"T": 3500.2, "v": 8.17, "s": "FRNN forecast (no SGTC kink info)"},
      {"T": 3502.3, "v": 3.5, "s": "FRNN forecast (no SGTC kink info)"}, {"T": 3504.9, "v": 0.91, "s": "FRNN forecast (no SGTC kink info)"},
      {"T": 3508.9, "v": 0.13, "s": "FRNN forecast (no SGTC kink info)"}, {"T": 3515.4, "v": -0.13, "s": "FRNN forecast (no SGTC kink info)"},
      {"T": 3520.8, "v": -0.26, "s": "FRNN forecast (no SGTC kink info)"}, {"T": 3524.1, "v": -0.52, "s": "FRNN forecast (no SGTC kink info)"},
      {"T": 3527.3, "v": -0.13, "s": "FRNN forecast (no SGTC kink info)"}, {"T": 3530.6, "v": 0.91, "s": "FRNN forecast (no SGTC kink info)"},
      {"T": 3537.1, "v": 1.17, "s": "FRNN forecast (no SGTC kink info)"}, {"T": 3543.6, "v": 1.56, "s": "FRNN forecast (no SGTC kink info)"},
      {"T": 3550.1, "v": 1.17, "s": "FRNN forecast (no SGTC kink info)"}, {"T": 3558.8, "v": 0.91, "s": "FRNN forecast (no SGTC kink info)"},
      {"T": 3569.6, "v": 1.04, "s": "FRNN forecast (no SGTC kink info)"}, {"T": 3578.3, "v": 1.43, "s": "FRNN forecast (no SGTC kink info)"},
      {"T": 3587, "v": 1.82, "s": "FRNN forecast (no SGTC kink info)"}, {"T": 3593.5, "v": 2.33, "s": "FRNN forecast (no SGTC kink info)"},
      {"T": 3597.8, "v": 3.11, "s": "FRNN forecast (no SGTC kink info)"}, {"T": 3600, "v": 2.85, "s": "FRNN forecast (no SGTC kink info)"}
    ]
  },
  "vconcat": [
    {
      "width": 1227,
      "height": 256,
      "view": {"stroke": null},
      "data": {"name": "energy"},
      "layer": [
        {
          "mark": {"type": "line", "interpolate": "monotone", "strokeWidth": 2},
          "encoding": {
            "x": {
              "field": "E", "type": "quantitative",
              "scale": {"domain": [0, 100], "range": [141, 1227], "nice": false},
              "axis": {
                "orient": "bottom", "values": [0, 20, 40, 60, 80, 100], "ticks": false,
                "domain": true, "domainColor": "#000", "domainWidth": 2,
                "labelFont": "DejaVu Sans", "labelFontSize": 24, "labelColor": "#1c2a3a", "labelPadding": 12, "labelFlush": false,
                "title": "E [keV]", "titleFont": "DejaVu Sans", "titleFontSize": 22, "titleColor": "#2a2a2a", "titlePadding": 4
              }
            },
            "y": {
              "field": "f", "type": "quantitative",
              "scale": {"domain": [0, 300], "nice": false},
              "axis": {
                "orient": "left", "offset": -141, "values": [0, 50, 100, 150, 200, 250, 300], "ticks": false,
                "domain": true, "domainColor": "#000", "domainWidth": 2,
                "labelFont": "DejaVu Sans", "labelFontSize": 24, "labelColor": "#1c2a3a", "labelPadding": 9, "labelFlush": true,
                "title": "f₀(a.u.)", "titleFont": "DejaVu Sans", "titleFontSize": 72, "titleFontStyle": "italic",
                "titleColor": "#111", "titlePadding": 44
              }
            },
            "color": {
              "field": "curve", "type": "nominal",
              "scale": {"domain": ["classical", "kick model", "RBQ1D"], "range": ["#111111", "#ff1f1f", "#2323ff"]},
              "legend": {
                "orient": "none", "legendX": 951, "legendY": 22.5, "title": null, "padding": 0,
                "symbolSize": 0, "symbolOpacity": 0, "labelOffset": 0, "clipHeight": 33.5,
                "labelFont": "DejaVu Sans", "labelFontSize": 34, "labelLimit": 600, "rowPadding": 0,
                "encode": {"labels": {"update": {"fill": {"signal": "datum.label === 'kick model' ? '#ff1f1f' : datum.label === 'RBQ1D' ? '#2323ff' : '#111111'"}}}}
              }
            }
          }
        },
        {
          "mark": {"type": "point", "opacity": 0},
          "encoding": {
            "x": {"field": "E", "type": "quantitative",
              "axis": {"orient": "bottom", "values": [0, 20, 40, 60, 80, 100], "labels": false, "domain": false, "tickSize": -7, "tickWidth": 2, "tickColor": "#000", "title": null}},
            "y": {"field": "f", "type": "quantitative",
              "axis": {"orient": "left", "offset": -141, "values": [0, 50, 100, 150, 200, 250, 300], "labels": false, "domain": false, "tickSize": -22, "tickWidth": 2, "tickColor": "#000", "title": null}}
          }
        },
        {
          "mark": {"type": "point", "opacity": 0},
          "encoding": {
            "x": {"field": "E", "type": "quantitative",
              "axis": {"orient": "top", "values": [0, 20, 40, 60, 80, 100], "labels": false, "domain": true, "domainColor": "#000", "domainWidth": 2, "tickSize": -7, "tickWidth": 2, "tickColor": "#000", "title": null}},
            "y": {"field": "f", "type": "quantitative",
              "axis": {"orient": "right", "values": [0, 50, 100, 150, 200, 250, 300], "labels": false, "domain": true, "domainColor": "#000", "domainWidth": 2, "tickSize": -22, "tickWidth": 2, "tickColor": "#000", "title": null}}
          }
        },
        {
          "mark": {"type": "point", "opacity": 0},
          "encoding": {
            "x": {"field": "E", "type": "quantitative",
              "axis": {"orient": "bottom", "values": [5, 10, 15, 25, 30, 35, 45, 50, 55, 65, 70, 75, 85, 90, 95], "labels": false, "domain": false, "tickSize": -4, "tickWidth": 2, "tickColor": "#000", "title": null}},
            "y": {"field": "f", "type": "quantitative",
              "axis": {"orient": "left", "offset": -141, "values": [25, 75, 125, 175, 225, 275], "labels": false, "domain": false, "tickSize": -11, "tickWidth": 2, "tickColor": "#000", "title": null}}
          }
        },
        {
          "mark": {"type": "point", "opacity": 0},
          "encoding": {
            "x": {"field": "E", "type": "quantitative",
              "axis": {"orient": "top", "values": [5, 10, 15, 25, 30, 35, 45, 50, 55, 65, 70, 75, 85, 90, 95], "labels": false, "domain": false, "tickSize": -4, "tickWidth": 2, "tickColor": "#000", "title": null}},
            "y": {"field": "f", "type": "quantitative",
              "axis": {"orient": "right", "values": [25, 75, 125, 175, 225, 275], "labels": false, "domain": false, "tickSize": -11, "tickWidth": 2, "tickColor": "#000", "title": null}}
          }
        },
        {
          "data": {"values": [{"label": "DIII-D"}]},
          "mark": {"type": "text", "font": "Open Sans", "fontSize": 40, "color": "#00aeef", "align": "center", "baseline": "middle"},
          "encoding": {
            "x": {"datum": 49.1, "type": "quantitative", "axis": null},
            "y": {"datum": 205, "type": "quantitative", "axis": null},
            "text": {"field": "label"}
          }
        }
      ],
      "resolve": {"axis": {"x": "independent", "y": "independent"}}
    },
    {
      "width": 1152,
      "height": 315,
      "view": {"stroke": "#9b9b9b", "strokeWidth": 1.5},
      "layer": [
        {
          "data": {"name": "n1rms"},
          "transform": [{"calculate": "'n1rms'", "as": "s"}],
          "mark": {"type": "line", "strokeWidth": 1.6},
          "encoding": {
            "x": {
              "field": "T", "type": "quantitative",
              "scale": {"domain": [3000, 3600], "nice": false},
              "axis": {
                "orient": "bottom", "values": [3000, 3100, 3200, 3300, 3400, 3500, 3600],
                "labels": false, "tickSize": 5, "tickColor": "#777", "domain": false, "title": null
              }
            },
            "y": {
              "field": "v", "type": "quantitative",
              "scale": {"domain": [-1.7, 22.8], "nice": false, "zero": false},
              "axis": {
                "orient": "left", "values": [0, 5, 10, 15, 20], "tickSize": 6, "tickColor": "#666", "domain": false,
                "labelFont": "DejaVu Sans", "labelFontSize": 23, "labelColor": "#222", "labelPadding": 7,
                "title": "a.u.", "titleFont": "DejaVu Sans", "titleFontSize": 24, "titleColor": "#222", "titlePadding": 8
              }
            },
            "color": {
              "field": "s", "type": "nominal",
              "scale": {
                "domain": ["n1rms", "SGTC kink mode", "FRNN forecast (kink γ+2D fields)", "FRNN forecast (kink γ)", "FRNN forecast (no SGTC kink info)"],
                "range": ["#1a1aff", "#ff1fff", "#111111", "#ff9a1a", "#22bb22"]
              },
              "legend": {
                "orient": "none", "legendX": 22, "legendY": 14.3, "title": null, "padding": 0,
                "symbolType": "stroke", "symbolSize": 2809, "symbolStrokeWidth": 2.5, "clipHeight": 43.3,
                "labelFont": "DejaVu Sans", "labelFontSize": 25, "labelColor": "#222", "labelOffset": 20, "labelLimit": 800,
                "rowPadding": 0
              }
            }
          }
        },
        {
          "data": {"name": "sgtc"},
          "mark": {"type": "line", "interpolate": "step-after", "strokeWidth": 1.8},
          "encoding": {
            "x": {"field": "T", "type": "quantitative", "scale": {"domain": [3000, 3600], "nice": false}, "axis": null},
            "y": {"field": "v", "type": "quantitative", "axis": null},
            "color": {"field": "s", "type": "nominal"}
          }
        },
        {
          "data": {"name": "forecasts"},
          "mark": {"type": "line", "strokeWidth": 2.2},
          "encoding": {
            "x": {"field": "T", "type": "quantitative", "scale": {"domain": [3000, 3600], "nice": false}, "axis": null},
            "y": {"field": "v", "type": "quantitative", "axis": null},
            "color": {"field": "s", "type": "nominal"}
          }
        },
        {
          "data": {"name": "sgtc"},
          "mark": {"type": "point", "opacity": 0},
          "encoding": {
            "x": {"field": "T", "type": "quantitative", "scale": {"domain": [3000, 3600], "nice": false},
              "axis": {"orient": "top", "values": [3000, 3100, 3200, 3300, 3400, 3500, 3600], "labels": false, "domain": false, "tickSize": 3, "tickColor": "#aaa", "title": null}},
            "y": {"field": "v", "type": "quantitative", "axis": null}
          }
        },
        {
          "data": {"values": [{"label": "DIII-D"}]},
          "mark": {"type": "text", "font": "Open Sans", "fontSize": 40, "color": "#00aeef", "align": "center", "baseline": "middle"},
          "encoding": {
            "x": {"datum": 3299, "type": "quantitative", "scale": {"domain": [3000, 3600], "nice": false}, "axis": null},
            "y": {"datum": 19.4, "type": "quantitative", "axis": null},
            "text": {"field": "label"}
          }
        },
        {
          "data": {"name": "sgtc"},
          "mark": {"type": "point", "opacity": 0},
          "encoding": {
            "x": {
              "field": "T", "type": "quantitative",
              "scale": {"domain": [3000, 3600], "range": [-46, 1204], "nice": false},
              "axis": {
                "orient": "bottom", "values": [3000, 3100, 3200, 3300, 3400, 3500, 3600], "format": "d",
                "ticks": false, "domain": false, "labelFlush": false, "labelOverlap": false,
                "labelFont": "DejaVu Sans", "labelFontSize": 30, "labelColor": "#111", "labelPadding": 7,
                "title": "T [ms]", "titleFont": "DejaVu Sans", "titleFontSize": 30, "titleColor": "#111", "titlePadding": 4
              }
            },
            "y": {"field": "v", "type": "quantitative", "axis": null}
          }
        }
      ],
      "resolve": {"scale": {"x": "independent"}, "axis": {"x": "independent", "y": "independent"}}
    }
  ]
}
